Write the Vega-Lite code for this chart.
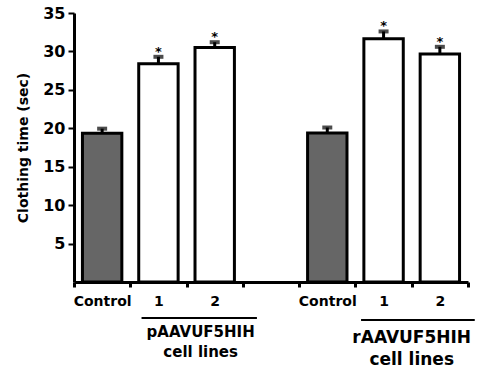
{
  "$schema": "https://vega.github.io/schema/vega-lite/v6.json",
  "autosize": {"type": "none"},
  "width": 394,
  "height": 269,
  "padding": {"left": 74, "top": 13, "right": 17, "bottom": 89},
  "background": "white",
  "config": {
    "view": {"stroke": null},
    "font": "DejaVu Sans",
    "axis": {"domainColor": "black", "tickColor": "black", "labelColor": "black", "titleColor": "black", "grid": false, "labelFontWeight": "bold", "titleFontWeight": "bold", "labelFont": "DejaVu Sans", "titleFont": "DejaVu Sans"}
  },
  "datasets": {
    "bars": [
      {"slot": "Control|p", "grp": "control", "time": 19.35, "upper": 19.95, "sig": ""},
      {"slot": "1|p", "grp": "cell", "time": 28.4, "upper": 29.3, "sig": "*"},
      {"slot": "2|p", "grp": "cell", "time": 30.5, "upper": 31.2, "sig": "*"},
      {"slot": "Control|r", "grp": "control", "time": 19.4, "upper": 20.1, "sig": ""},
      {"slot": "1|r", "grp": "cell", "time": 31.65, "upper": 32.6, "sig": "*"},
      {"slot": "2|r", "grp": "cell", "time": 29.65, "upper": 30.6, "sig": "*"}
    ]
  },
  "layer": [
    {
      "data": {"name": "bars"},
      "mark": {"type": "bar", "width": {"band": 0.7}, "stroke": "black", "strokeWidth": 3},
      "encoding": {
        "x": {
          "field": "slot", "type": "nominal", "sort": null,
          "scale": {"domain": ["Control|p", "1|p", "2|p", "gap", "Control|r", "1|r", "2|r"], "paddingInner": 0, "paddingOuter": 0},
          "axis": {"title": null, "labelAngle": 0, "tickBand": "extent", "tickSize": 5, "tickWidth": 3, "domainWidth": 3, "labelFontSize": 14, "labelPadding": 7, "labelExpr": "isValid(datum.value) && datum.value != 'gap' ? split(datum.value, '|')[0] : ''"}
        },
        "y": {
          "field": "time", "type": "quantitative",
          "scale": {"domain": [0, 35], "nice": false},
          "axis": {"title": "Clothing time (sec)", "values": [5, 10, 15, 20, 25, 30, 35], "tickSize": 6, "tickWidth": 2, "domainWidth": 3, "labelFontSize": 16, "labelPadding": 3, "titleFontSize": 14, "titlePadding": 12}
        },
        "fill": {"field": "grp", "type": "nominal", "scale": {"domain": ["control", "cell"], "range": ["#666666", "white"]}, "legend": null}
      }
    },
    {
      "data": {"name": "bars"},
      "mark": {"type": "rule", "color": "black", "strokeWidth": 3},
      "encoding": {
        "x": {"field": "slot", "type": "nominal", "sort": null},
        "y": {"field": "time", "type": "quantitative"},
        "y2": {"field": "upper"}
      }
    },
    {
      "data": {"name": "bars"},
      "mark": {"type": "tick", "color": "black", "size": 10, "thickness": 4},
      "encoding": {
        "x": {"field": "slot", "type": "nominal", "sort": null},
        "y": {"field": "upper", "type": "quantitative"}
      }
    },
    {
      "data": {"name": "bars"},
      "mark": {"type": "text", "font": "DejaVu Sans", "fontWeight": "bold", "fontSize": 13, "baseline": "alphabetic", "dy": -1, "color": "black"},
      "encoding": {
        "x": {"field": "slot", "type": "nominal", "sort": null},
        "y": {"field": "upper", "type": "quantitative"},
        "text": {"field": "sig"}
      }
    },
    {
      "data": {"values": [{"a": "1|p", "b": "gap"}]},
      "mark": {"type": "rule", "color": "black", "strokeWidth": 2, "clip": false},
      "encoding": {
        "x": {"field": "a", "type": "nominal", "bandPosition": 0.2},
        "x2": {"field": "b", "bandPosition": 0.25},
        "y": {"datum": -4.68}
      }
    },
    {
      "data": {"values": [{"a": "1|r", "b": "2|r"}]},
      "mark": {"type": "rule", "color": "black", "strokeWidth": 2, "clip": false},
      "encoding": {
        "x": {"field": "a", "type": "nominal", "bandPosition": 0.1},
        "x2": {"field": "b", "bandPosition": 1.12},
        "y": {"datum": -4.94}
      }
    },
    {
      "data": {"values": [{"s": "2|p", "label": "pAAVUF5HIH"}]},
      "mark": {"type": "text", "font": "DejaVu Sans", "fontWeight": "bold", "fontSize": 15, "baseline": "middle", "color": "black"},
      "encoding": {
        "x": {"field": "s", "type": "nominal", "bandPosition": 0.25},
        "y": {"datum": -6.5},
        "text": {"field": "label"}
      }
    },
    {
      "data": {"values": [{"s": "2|p", "label": "cell lines"}]},
      "mark": {"type": "text", "font": "DejaVu Sans", "fontWeight": "bold", "fontSize": 15, "baseline": "middle", "color": "black"},
      "encoding": {
        "x": {"field": "s", "type": "nominal", "bandPosition": 0.25},
        "y": {"datum": -9.1},
        "text": {"field": "label"}
      }
    },
    {
      "data": {"values": [{"s": "2|r", "label": "rAAVUF5HIH"}]},
      "mark": {"type": "text", "font": "DejaVu Sans", "fontWeight": "bold", "fontSize": 17, "baseline": "middle", "color": "black"},
      "encoding": {
        "x": {"field": "s", "type": "nominal", "bandPosition": 0},
        "y": {"datum": -7.28},
        "text": {"field": "label"}
      }
    },
    {
      "data": {"values": [{"s": "2|r", "label": "cell lines"}]},
      "mark": {"type": "text", "font": "DejaVu Sans", "fontWeight": "bold", "fontSize": 17, "baseline": "middle", "color": "black"},
      "encoding": {
        "x": {"field": "s", "type": "nominal", "bandPosition": 0},
        "y": {"datum": -10.15},
        "text": {"field": "label"}
      }
    }
  ]
}
